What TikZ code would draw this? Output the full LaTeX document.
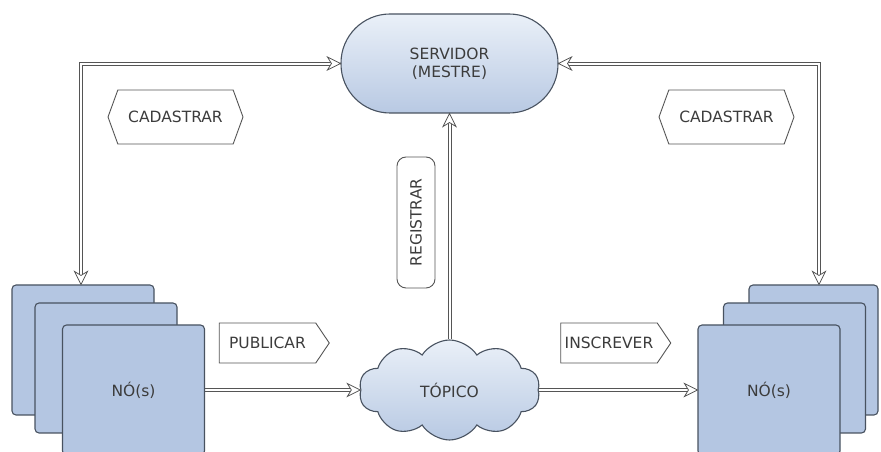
\documentclass[tikz,border=0pt]{standalone}
\usepackage{fontspec}
\setmainfont{DejaVu Sans}
\usetikzlibrary{calc,shapes.symbols,shapes.geometric}

\definecolor{wire}{HTML}{555555}
\definecolor{boxfill}{RGB}{180,198,226}
\definecolor{boxline}{RGB}{72,82,96}
\definecolor{ink}{HTML}{3C3C3C}
\definecolor{shadelight}{RGB}{234,240,248}
\definecolor{shadedark}{RGB}{184,201,227}

\tikzset{
  rail/.style={draw=wire, line width=0.8pt, line join=miter},
  wiretip/.style={draw=wire, line width=0.8pt, fill=white, line join=miter},
  nodebox/.style={draw=boxline, line width=1.1pt, fill=boxfill, rounded corners=4pt,
    minimum width=142pt, minimum height=130pt, inner sep=0pt},
  servershape/.style={rectangle, rounded corners=49pt, draw=boxline, line width=1.1pt,
    top color=shadelight, bottom color=shadedark, minimum width=217pt,
    minimum height=99pt, align=center, inner sep=0pt},
  topiccloud/.style={cloud, cloud puffs=10, cloud puff arc=115, cloud ignores aspect,
    draw=boxline, line width=1.1pt, top color=shadelight, bottom color=shadedark,
    minimum width=181pt, minimum height=100pt, inner sep=0pt},
  actiontag/.style={signal, signal to=east, signal pointer angle=112, draw=wire,
    line width=0.9pt, fill=white, minimum width=110pt, minimum height=40pt, inner sep=0pt},
  hexlabel/.style={signal, signal to=west and east, signal pointer angle=140, draw=wire,
    line width=0.9pt, fill=white, minimum width=135pt, minimum height=54pt, inner sep=0pt},
  pill/.style={draw=wire, line width=0.9pt, fill=white, rounded corners=9pt,
    minimum width=131pt, minimum height=38pt, inner sep=0pt}
}

% open arrowhead whose point sits at #1, pointing away from #2
\newcommand\wirehead[2]{%
  \draw[wiretip] (#1)
    -- ($(#1)!13pt!(#2)!6.5pt!90:(#1)$)
    -- ($(#1)!9pt!(#2)$)
    -- ($(#1)!13pt!(#2)!6.5pt!-90:(#1)$)
    -- cycle;}

\begin{document}
\begin{tikzpicture}[x=1pt, y=1pt, font=\fontsize{15.5}{18}\selectfont, text=ink]
\useasboundingbox (0,0) rectangle (881,452);

% server
\node[servershape] (srv) at (449.5,388.5) {SERVIDOR\\(MESTRE)};

% left stack of nodes
\node[nodebox] (lback) at (83,102) {};
\node[nodebox] (lmid) at (106,84) {};
\node[nodebox] (lfront) at (133.5,62) {NÓ(s)};

% right stack of nodes
\node[nodebox, minimum width=129pt] (rback) at (813.5,102) {};
\node[nodebox] (rmid) at (794.5,84) {};
\node[nodebox] (rfront) at (769,62) {NÓ(s)};

% topic
\node[topiccloud] (topic) at (449.5,62) {TÓPICO};

% labels
\node[hexlabel] (cadl) at (175.5,335) {CADASTRAR};
\node[hexlabel] (cadr) at (726.5,335) {CADASTRAR};
\node[actiontag] (pub) at (267.5,109) {PUBLICAR};
\node[actiontag] (ins) at (609,109) {INSCREVER};
\node[pill, rotate=90] (reg) at (416,229.5) {REGISTRAR};

% connector bends
\coordinate (ltop) at ([xshift=-2pt]lback.north);
\coordinate (rtop) at ([xshift=5.5pt]rback.north);
\coordinate (lcorner) at (ltop |- srv.west);
\coordinate (rcorner) at (rtop |- srv.east);

% double-line connectors, each drawn as two parallel rails
\draw[rail] ([shift={(-1.5pt,8pt)}]ltop) |- ([shift={(-8pt,1.5pt)}]srv.west);
\draw[rail] ([shift={(1.5pt,8pt)}]ltop) |- ([shift={(-8pt,-1.5pt)}]srv.west);
\draw[rail] ([shift={(1.5pt,8pt)}]rtop) |- ([shift={(8pt,1.5pt)}]srv.east);
\draw[rail] ([shift={(-1.5pt,8pt)}]rtop) |- ([shift={(8pt,-1.5pt)}]srv.east);
\draw[rail] ([yshift=1.5pt]lfront.east) -- ([shift={(-8pt,1.5pt)}]topic.west);
\draw[rail] ([yshift=-1.5pt]lfront.east) -- ([shift={(-8pt,-1.5pt)}]topic.west);
\draw[rail] ([yshift=1.5pt]topic.east) -- ([shift={(-8pt,1.5pt)}]rfront.west);
\draw[rail] ([yshift=-1.5pt]topic.east) -- ([shift={(-8pt,-1.5pt)}]rfront.west);
\draw[rail] ([xshift=-1.5pt]topic.north) -- ([shift={(-1.5pt,-8pt)}]srv.south);
\draw[rail] ([xshift=1.5pt]topic.north) -- ([shift={(1.5pt,-8pt)}]srv.south);

% arrowheads
\wirehead{ltop}{lcorner}
\wirehead{srv.west}{lcorner}
\wirehead{rtop}{rcorner}
\wirehead{srv.east}{rcorner}
\wirehead{topic.west}{lfront.east}
\wirehead{rfront.west}{topic.east}
\wirehead{srv.south}{topic.north}
\end{tikzpicture}
\end{document}
